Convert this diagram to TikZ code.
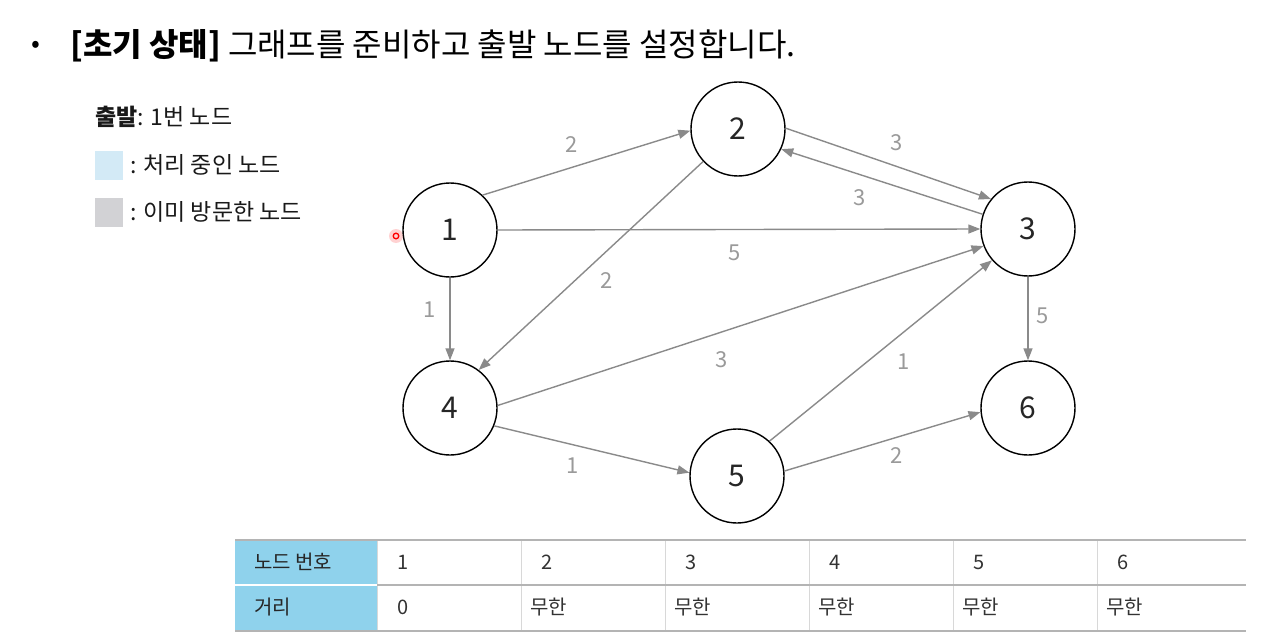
\documentclass[tikz,border=0pt]{standalone}
\usepackage{fontspec}
\setmainfont{Noto Sans CJK KR}
\usetikzlibrary{arrows.meta}
\definecolor{edgegray}{HTML}{8A8A8A}
\definecolor{labgray}{HTML}{9A9A9A}
\definecolor{procblue}{HTML}{D3EAF6}
\definecolor{visgray}{HTML}{D2D2D5}
\definecolor{headblue}{HTML}{8FD2EC}
\definecolor{rulegray}{HTML}{B4B4B4}
\definecolor{sepgray}{HTML}{D8D8D8}
\tikzset{
  vertex/.style={circle, draw=black, line width=1.4pt, minimum size=94pt, inner sep=0pt, font=\fontsize{30}{30}\selectfont, text=black!85},
  edge/.style={draw=edgegray, line width=1.4pt, -{Triangle[length=12pt,width=9pt]}},
  wlab/.style={text=labgray, font=\fontsize{22}{22}\selectfont, inner sep=0pt},
  legtext/.style={anchor=west, inner sep=0pt, font=\fontsize{23}{23}\selectfont, text=black!90},
  celltext/.style={anchor=west, inner sep=0pt, font=\fontsize{20}{20}\selectfont, text=black!80},
}
\begin{document}
\begin{tikzpicture}[x=1pt,y=-1pt]
\useasboundingbox (0,0) rectangle (1275,642);
\fill[white] (0,0) rectangle (1275,642);

% title
\node[anchor=center, inner sep=0pt, font=\fontsize{26}{26}\selectfont] (bullet) at (36,47) {•};
\node[anchor=west, inner sep=0pt, font=\fontsize{32}{32}\selectfont] (title) at (70,46)
  {\textbf{[초기 상태]} 그래프를 준비하고 출발 노드를 설정합니다.};

% legend
\node[legtext] (start) at (95,117) {\textbf{출발}: 1번 노드};
\node[draw=none, fill=procblue, minimum width=28pt, minimum height=29pt, inner sep=0pt] (boxp) at (109,165) {};
\node[legtext] (legp) at (130,165) {: 처리 중인 노드};
\node[draw=none, fill=visgray, minimum width=28pt, minimum height=29pt, inner sep=0pt] (boxv) at (109,212) {};
\node[legtext] (legv) at (130,212) {: 이미 방문한 노드};

% cursor dot
\fill[red!35, opacity=0.5] (396,236) circle (7pt);
\draw[red, line width=1.3pt] (396,236) circle (2.8pt);

% vertices
\node[vertex] (n1) at (450,230) {1};
\node[vertex] (n2) at (738,129) {2};
\node[vertex] (n3) at (1028,229) {3};
\node[vertex] (n4) at (450,408) {4};
\node[vertex] (n5) at (737,476) {5};
\node[vertex] (n6) at (1028,408) {6};

% edges
\draw[edge] (n1.47) -- (n2.182);
\draw[edge] (n2.1) -- (n3.141);
\draw[edge] (n3.162) -- (n2.-25);
\draw[edge] (n1.0) -- (n3.180);
\draw[edge] (n2.223) -- (n4.53);
\draw[edge] (n1.-90) -- (n4.90);
\draw[edge] (n4.3) -- (n3.201);
\draw[edge] (n5.47) -- (n3.221);
\draw[edge] (n3.-90) -- (n6.90);
\draw[edge] (n4.-22) -- (n5.176);
\draw[edge] (n5.6) -- (n6.185);

% weights
\node[wlab] (w12) at (572,145) {2};
\node[wlab] (w23) at (897,143) {3};
\node[wlab] (w32) at (860,198) {3};
\node[wlab] (w13) at (735,253) {5};
\node[wlab] (w24) at (607,281) {2};
\node[wlab] (w14) at (430,310) {1};
\node[wlab] (w43) at (722,360) {3};
\node[wlab] (w53) at (904,362) {1};
\node[wlab] (w36) at (1043,316) {5};
\node[wlab] (w45) at (573,466) {1};
\node[wlab] (w56) at (897,456) {2};

% table
\fill[headblue] (235,541) rectangle (377,630);
\draw[white, line width=2pt] (235,585) -- (377,585);
\foreach \xx in {521,665,809,953,1097} {
  \draw[sepgray, line width=1pt] (\xx,541) -- (\xx,630);
}
\draw[sepgray, line width=1pt] (377,541) -- (377,630);
\draw[rulegray, line width=2.5pt] (235,540) -- (1246,540);
\draw[rulegray, line width=1.5pt] (377,585) -- (1246,585);
\draw[rulegray, line width=2.5pt] (235,631) -- (1246,631);

\node[celltext, text=black!85] (h1) at (254,562) {노드 번호};
\node[celltext, text=black!85] (h2) at (254,607) {거리};
\node[celltext] (c1) at (397,562) {1};
\node[celltext] (c2) at (541,562) {2};
\node[celltext] (c3) at (685,562) {3};
\node[celltext] (c4) at (829,562) {4};
\node[celltext] (c5) at (973,562) {5};
\node[celltext] (c6) at (1117,562) {6};
\node[celltext] (d1) at (397,607) {0};
\node[celltext] (d2) at (530,607) {무한};
\node[celltext] (d3) at (674,607) {무한};
\node[celltext] (d4) at (818,607) {무한};
\node[celltext] (d5) at (962,607) {무한};
\node[celltext] (d6) at (1106,607) {무한};
\end{tikzpicture}
\end{document}
